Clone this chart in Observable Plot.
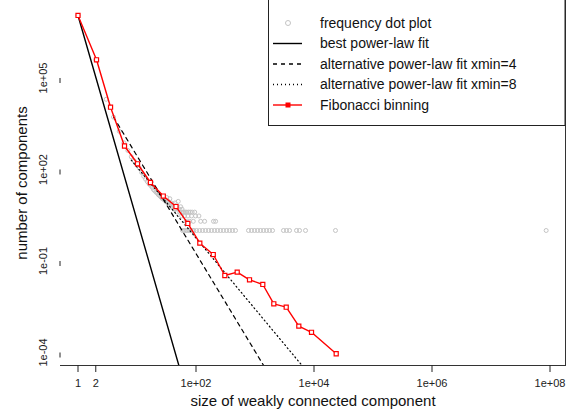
<!DOCTYPE html>
<html>
<head>
<meta charset="utf-8">
<script src="https://cdn.jsdelivr.net/npm/d3@7"></script>
<script src="https://cdn.jsdelivr.net/npm/@observablehq/plot@0.6"></script>
<style>
  body { margin: 0; background: #fff; font-family: "Liberation Sans", Arial, sans-serif; }
  #chart { position: relative; width: 572px; height: 412px; overflow: hidden; }
  #legend { position: absolute; left: 0; top: 0; pointer-events: none; }
</style>
</head>
<body>
<div id="chart"></div>
<script>
// axis ticks, as printed on the picture
const xTicks = [1, 2, 1e2, 1e4, 1e6, 1e8];
const xTickLabels = ["1", "2", "1e+02", "1e+04", "1e+06", "1e+08"];
const yTicks = [1e5, 1e2, 1e-1, 1e-4];
const yTickLabels = ["1e+05", "1e+02", "1e-01", "1e-04"];

// frequency dot plot: component size -> number of components
const freqSize = [1, 2, 3, 4, 5, 6, 7, 8, 9, 10, 11, 12, 13, 14, 15, 16, 17, 18, 19, 20,
  21, 22, 23, 24, 25, 26, 27, 28, 29, 30, 31, 32, 33, 34, 35, 36, 37, 38, 39, 40,
  42, 43, 44, 45, 47, 48, 50, 52, 53, 55, 57, 58, 60, 62, 64, 66, 68, 70, 73, 75,
  78, 80, 84, 86, 90, 95, 98, 112, 120, 140, 198, 215,
  59, 63, 67, 71, 76, 82, 88, 92, 102, 115, 129, 145, 163, 183, 206, 231, 260, 292,
  329, 370, 415, 467, 776, 873, 981, 1103, 1240, 1394, 1567, 1762, 1981, 3040, 3420,
  3845, 5050, 5680, 7180, 23130, 86000000];
const freqCount = [11200000, 395000, 20000, 5200, 1800, 750, 420, 260, 190, 150, 110, 80, 60, 48, 40, 34, 30, 26, 22, 20,
  18, 17, 15, 14, 13, 12, 11, 12, 10, 10, 9, 12, 8, 9, 7, 11, 6, 8, 7, 6,
  7, 5, 8, 5, 6, 4, 9, 5, 4, 6, 3, 5, 4, 4, 3, 4, 2, 4, 3, 4,
  2, 4, 3, 4, 2, 4, 3, 3, 2, 2, 2, 2,
  1, 1, 1, 1, 1, 1, 1, 1, 1, 1, 1, 1, 1, 1, 1, 1, 1, 1,
  1, 1, 1, 1, 1, 1, 1, 1, 1, 1, 1, 1, 1, 1, 1,
  1, 1, 1, 1, 1, 1];

// Fibonacci binning
const fibX = [1, 2.06, 3.56, 6.14, 10.2, 16.9, 27.9, 45.8, 72.6, 116, 196, 308, 499, 807, 1355, 2083, 3380, 5525, 9070, 23770];
const fibY = [11200000, 395000, 11000, 589, 154, 37.5, 13.5, 6.1, 1.7, 0.384, 0.163, 0.0335, 0.043, 0.0242, 0.017, 0.00395, 0.00306, 0.00073, 0.00046, 0.000091];

// fitted power laws (end points)
const bestX = [1, 53];
const bestY = [11200000, 0.00003];
const alt4X = [4, 1500];
const alt4Y = [5250, 0.00003];
const alt8X = [8, 6900];
const alt8Y = [202, 0.00003];

const legendLabels = ["frequency dot plot", "best power-law fit", "alternative power-law fit xmin=4",
  "alternative power-law fit xmin=8", "Fibonacci binning"];

const freq = freqSize.map((s, i) => ({x: s, y: freqCount[i]}));
const fib = fibX.map((x, i) => ({x, y: fibY[i]}));
const best = bestX.map((x, i) => ({x, y: bestY[i]}));
const alt4 = alt4X.map((x, i) => ({x, y: alt4Y[i]}));
const alt8 = alt8X.map((x, i) => ({x, y: alt8Y[i]}));

const chart = Plot.plot({
  width: 572,
  height: 412,
  marginLeft: 60,
  marginRight: 7,
  marginTop: 0,
  marginBottom: 47,
  style: {fontFamily: "'Liberation Sans', Arial, sans-serif", background: "white", color: "#222"},
  x: {type: "log", domain: [0.505, 1.83e8]},
  y: {type: "log", domain: [3.75e-5, 3.47e7]},
  marks: [
    Plot.frame({anchor: "bottom", stroke: "#333"}),
    Plot.frame({anchor: "right", stroke: "#333"}),
    Plot.axisX({ticks: xTicks, tickSize: 7, label: null, tickFormat: () => ""}),
    // tick labels drawn as text so the log formatter does not drop "2"
    Plot.text(xTicks, {x: d => d, frameAnchor: "bottom", dy: 18, lineAnchor: "middle",
      text: (d, i) => xTickLabels[i], fontSize: 11, fill: "#222"}),
    Plot.axisY({ticks: yTicks, tickSize: 5, tickPadding: 12, fontSize: 11, label: null,
      rotate: -90, textAnchor: "middle", tickFormat: d => yTickLabels[yTicks.indexOf(d)]}),
    Plot.text(["number of components"], {frameAnchor: "left", dx: -38, rotate: -90,
      textAnchor: "middle", lineAnchor: "middle", fontSize: 15, fill: "#111"}),
    Plot.text(["size of weakly connected component"], {frameAnchor: "bottom", dy: 36,
      textAnchor: "middle", lineAnchor: "middle", fontSize: 15, fill: "#111"}),
    Plot.dot(freq, {x: "x", y: "y", r: 2, stroke: "#c4c4c4", strokeWidth: 1, fill: "none"}),
    Plot.line(best, {x: "x", y: "y", stroke: "black", strokeWidth: 1.4, clip: true}),
    Plot.line(alt4, {x: "x", y: "y", stroke: "black", strokeWidth: 1.2, strokeDasharray: "4,4", clip: true}),
    Plot.line(alt8, {x: "x", y: "y", stroke: "black", strokeWidth: 1.2, strokeDasharray: "1,3", clip: true}),
    Plot.line(fib, {x: "x", y: "y", stroke: "red", strokeWidth: 1.4}),
    Plot.dot(fib, {x: "x", y: "y", symbol: "square", r: 2.3, stroke: "red", fill: "white", strokeWidth: 1.2})
  ]
});
const holder = document.getElementById("chart");
holder.appendChild(chart);

// legend box in the top right corner
const leg = d3.select(holder).append("svg")
  .attr("id", "legend").attr("width", 572).attr("height", 412);
leg.append("rect").attr("x", 268.5).attr("y", -5).attr("width", 296.5).attr("height", 130.5)
  .attr("fill", "white").attr("stroke", "#222");
legendLabels.forEach((label, i) => {
  const y = 23 + i * 20.5;
  if (i === 0) {
    leg.append("circle").attr("cx", 288).attr("cy", y).attr("r", 2.5)
      .attr("fill", "none").attr("stroke", "#c4c4c4");
  } else {
    const ln = leg.append("line").attr("x1", 273).attr("x2", 302).attr("y1", y).attr("y2", y)
      .attr("stroke", i === 4 ? "red" : "black").attr("stroke-width", 1.4);
    if (i === 2) ln.attr("stroke-dasharray", "4,4");
    if (i === 3) ln.attr("stroke-dasharray", "1,3");
    if (i === 4) leg.append("rect").attr("x", 285.5).attr("y", y - 2.5).attr("width", 5).attr("height", 5).attr("fill", "red");
  }
  leg.append("text").attr("x", 320).attr("y", y).attr("dy", "0.35em")
    .attr("font-size", 14).attr("fill", "#111").text(label);
});
</script>
</body>
</html>
